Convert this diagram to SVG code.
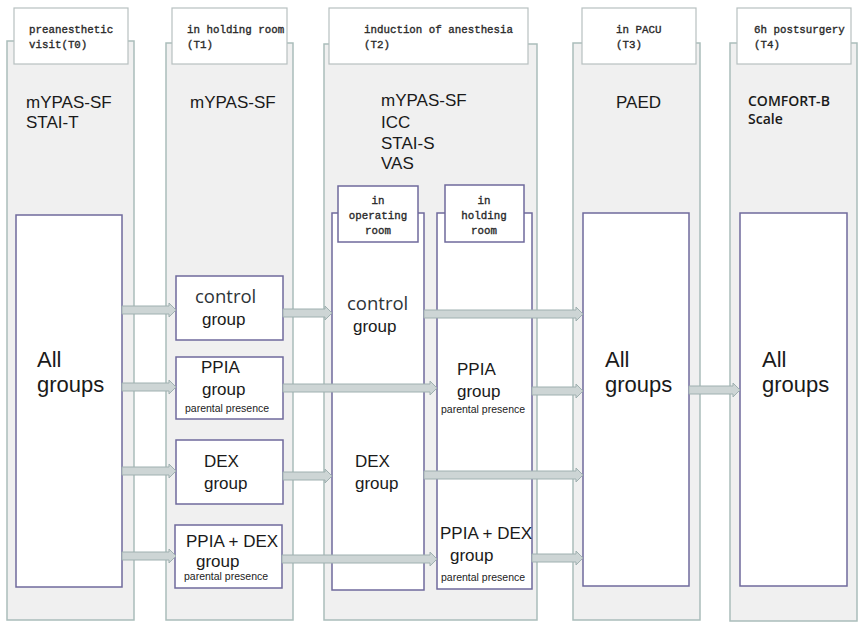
<svg xmlns="http://www.w3.org/2000/svg" width="865" height="632" viewBox="0 0 865 632">
<style>
.panel{fill:#f0f0f0;stroke:#aabdbb;stroke-width:1.5}
.hdr{fill:#ffffff;stroke:#b7c0c0;stroke-width:1.2}
.box{fill:#ffffff;stroke:#6f6a9c;stroke-width:1.5}
.arr{fill:#cdd5d5;stroke:#9fb0b0;stroke-width:1}
.mono{font-family:"Liberation Mono","DejaVu Sans Mono",monospace;font-size:10.8px;fill:#2a2a2a;stroke:#2a2a2a;stroke-width:0.35}
.m{font-family:"Liberation Sans",Arial,sans-serif;font-size:17px;fill:#1a1a1a}
.big{font-family:"Liberation Sans",Arial,sans-serif;font-size:22px;fill:#1a1a1a}
.g{font-family:"Liberation Sans",Arial,sans-serif;font-size:17px;fill:#1a1a1a}
.ctl{font-family:"Open Sans","Noto Sans",sans-serif;font-size:18.5px;fill:#2e3438}
.pp{font-family:"Liberation Sans",Arial,sans-serif;font-size:10.5px;fill:#222}
.seg{font-family:"Open Sans","Noto Sans",sans-serif;font-size:14px;font-weight:600;fill:#1a1a1a}
</style>
<g id="col-T0">
<rect class="panel" x="7" y="41" width="127" height="579"/>
<rect class="hdr" x="14" y="8" width="114" height="56"/>
<text class="mono" x="29" y="33">preanesthetic</text>
<text class="mono" x="29" y="48">visit(T0)</text>
<text class="m" x="26" y="108">mYPAS-SF</text>
<text class="m" x="26" y="128">STAI-T</text>
<rect class="box" x="16" y="215" width="106" height="372"/>
<text class="big" x="37" y="367">All</text>
<text class="big" x="37" y="392">groups</text>
</g>
<g id="col-T1">
<rect class="panel" x="166" y="43" width="127" height="577"/>
<rect class="hdr" x="172" y="8" width="115" height="56"/>
<text class="mono" x="187" y="33">in holding room</text>
<text class="mono" x="187" y="48">(T1)</text>
<text class="m" x="190" y="108">mYPAS-SF</text>
</g>
<g id="t1-control">
<rect class="box" x="176" y="276" width="107" height="64"/>
<text class="ctl" x="195" y="303">control</text>
<text class="g" x="202" y="325">group</text>
</g>
<g id="t1-ppia">
<rect class="box" x="176" y="357" width="107" height="62"/>
<text class="g" x="201" y="373">PPIA</text>
<text class="g" x="202" y="395">group</text>
<text class="pp" x="185" y="412">parental presence</text>
</g>
<g id="t1-dex">
<rect class="box" x="176" y="440" width="107" height="64"/>
<text class="g" x="204" y="467">DEX</text>
<text class="g" x="204" y="489">group</text>
</g>
<g id="t1-ppiadex">
<rect class="box" x="175" y="525" width="107" height="63"/>
<text class="g" x="186" y="547">PPIA + DEX</text>
<text class="g" x="196" y="567">group</text>
<text class="pp" x="184" y="580">parental presence</text>
</g>
<g id="col-T2">
<rect class="panel" x="324" y="44" width="213" height="576"/>
<rect class="hdr" x="329" y="8" width="199" height="56"/>
<text class="mono" x="364" y="33">induction of anesthesia</text>
<text class="mono" x="364" y="48">(T2)</text>
<text class="m" x="381" y="106">mYPAS-SF</text>
<text class="m" x="381" y="128">ICC</text>
<text class="m" x="381" y="149">STAI-S</text>
<text class="m" x="381" y="169">VAS</text>
</g>
<g id="t2-operating">
<rect class="box" x="332" y="213" width="92" height="377"/>
<rect class="box" x="338" y="186" width="80" height="56"/>
<text class="mono" x="378" y="204" text-anchor="middle">in</text>
<text class="mono" x="378" y="219" text-anchor="middle">operating</text>
<text class="mono" x="378" y="234" text-anchor="middle">room</text>
<text class="ctl" x="347" y="310">control</text>
<text class="g" x="353" y="332">group</text>
<text class="g" x="355" y="467">DEX</text>
<text class="g" x="355" y="489">group</text>
</g>
<g id="t2-holding">
<rect class="box" x="437" y="213" width="95" height="376"/>
<rect class="box" x="445" y="185" width="79" height="57"/>
<text class="mono" x="484" y="204" text-anchor="middle">in</text>
<text class="mono" x="484" y="219" text-anchor="middle">holding</text>
<text class="mono" x="484" y="234" text-anchor="middle">room</text>
<text class="g" x="457" y="375">PPIA</text>
<text class="g" x="457" y="397">group</text>
<text class="pp" x="441" y="413">parental presence</text>
<text class="g" x="440" y="539">PPIA + DEX</text>
<text class="g" x="450" y="561">group</text>
<text class="pp" x="441" y="581">parental presence</text>
</g>
<g id="col-T3">
<rect class="panel" x="573" y="43" width="127" height="577"/>
<rect class="hdr" x="582" y="8" width="114" height="56"/>
<text class="mono" x="616" y="33">in PACU</text>
<text class="mono" x="616" y="48">(T3)</text>
<text class="m" x="616" y="108">PAED</text>
<rect class="box" x="583" y="213" width="106" height="373"/>
<text class="big" x="605" y="367">All</text>
<text class="big" x="605" y="392">groups</text>
</g>
<g id="col-T4">
<rect class="panel" x="730" y="43" width="127" height="578"/>
<rect class="hdr" x="737" y="8" width="114" height="56"/>
<text class="mono" x="754" y="33">6h postsurgery</text>
<text class="mono" x="754" y="48">(T4)</text>
<text class="seg" x="748" y="106">COMFORT-B</text>
<text class="seg" x="748" y="124">Scale</text>
<rect class="box" x="740" y="213" width="107" height="373"/>
<text class="big" x="762" y="367">All</text>
<text class="big" x="762" y="392">groups</text>
</g>
<g id="connectors">
<path class="arr" d="M122,306 H169 V303 L176,310 L169,317 V314 H122 Z"/>
<path class="arr" d="M122,383 H169 V380 L176,387 L169,394 V391 H122 Z"/>
<path class="arr" d="M122,467 H169 V464 L176,471 L169,478 V475 H122 Z"/>
<path class="arr" d="M122,552 H169 V549 L176,556 L169,563 V560 H122 Z"/>
<path class="arr" d="M283,309 H325 V306 L332,313 L325,320 V317 H283 Z"/>
<path class="arr" d="M283,384 H430 V381 L437,388 L430,395 V392 H283 Z"/>
<path class="arr" d="M283,472 H325 V469 L332,476 L325,483 V480 H283 Z"/>
<path class="arr" d="M282,555 H430 V552 L437,559 L430,566 V563 H282 Z"/>
<path class="arr" d="M424,310 H576 V307 L583,314 L576,321 V318 H424 Z"/>
<path class="arr" d="M532,387 H576 V384 L583,391 L576,398 V395 H532 Z"/>
<path class="arr" d="M424,471 H576 V468 L583,475 L576,482 V479 H424 Z"/>
<path class="arr" d="M532,554 H576 V551 L583,558 L576,565 V562 H532 Z"/>
<path class="arr" d="M689,386 H733 V383 L740,390 L733,397 V394 H689 Z"/>
</g>
</svg>
